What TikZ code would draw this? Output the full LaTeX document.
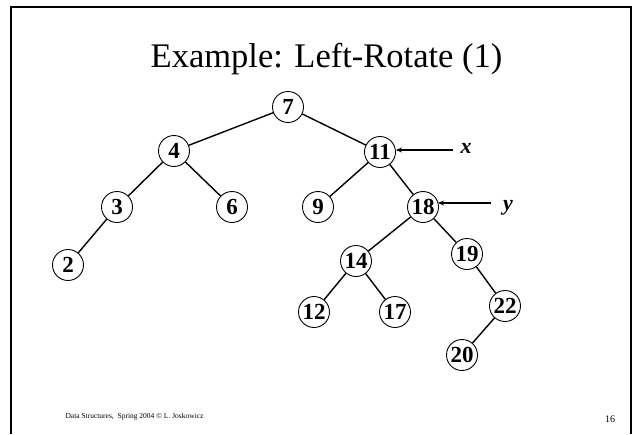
\documentclass[tikz,border=0pt]{standalone}
\usepackage{fontspec}
\setmainfont{Liberation Serif}
\usetikzlibrary{arrows.meta}
\begin{document}
\begin{tikzpicture}[x=1pt,y=1pt,
  key/.style={circle,draw,line width=0.9pt,minimum size=31pt,inner sep=0pt,
    font=\fontsize{23}{23}\selectfont\bfseries},
  edge/.style={line width=1.4pt},
  pointer/.style={line width=1.4pt,-{Stealth[length=6pt,width=5pt]}},
  tag/.style={font=\fontsize{22}{22}\selectfont\bfseries\itshape}]
\useasboundingbox (0,0) rectangle (637,-434);
% slide frame
\draw[line width=2.2pt] (11,-434) -- (11,-7) -- (631,-7) -- (631,-434);
% title
\node[anchor=base,font=\fontsize{34.5}{34.5}\selectfont] (title) at (326.5,-67) {Example: Left-Rotate (1)};
% tree nodes
\node[key] (n7)  at (288,-107) {7};
\node[key] (n4)  at (174,-151) {4};
\node[key] (n11) at (380,-152) {11};
\node[key] (n3)  at (117,-207) {3};
\node[key] (n6)  at (232,-207) {6};
\node[key] (n9)  at (318,-207) {9};
\node[key] (n18) at (423,-207) {18};
\node[key] (n2)  at (68,-265) {2};
\node[key] (n14) at (356,-261) {14};
\node[key] (n19) at (467,-254) {19};
\node[key] (n12) at (314,-312) {12};
\node[key] (n17) at (395,-312) {17};
\node[key] (n22) at (505,-306) {22};
\node[key] (n20) at (462,-355) {20};
% tree edges
\draw[edge] (n7) -- (n4);
\draw[edge] (n7) -- (n11);
\draw[edge] (n4) -- (n3);
\draw[edge] (n4) -- (n6);
\draw[edge] (n3) -- (n2);
\draw[edge] (n11) -- (n9);
\draw[edge] (n11) -- (n18);
\draw[edge] (n18) -- (n14);
\draw[edge] (n18) -- (n19);
\draw[edge] (n14) -- (n12);
\draw[edge] (n14) -- (n17);
\draw[edge] (n19) -- (n22);
\draw[edge] (n22) -- (n20);
% pointers x and y
\node[tag] (lx) at (466,-148) {x};
\node[tag] (ly) at (508,-208) {y};
\coordinate (xs) at (453,-150);
\coordinate (ys) at (491,-203);
\draw[pointer] (xs) -- (n11.east |- xs);
\draw[pointer] (ys) -- (438,-203) coordinate (ye);
% footer
\node[anchor=west,font=\fontsize{7.5}{8}\selectfont] (foot) at (62,-417) {Data Structures,\ \ Spring 2004 \textcopyright\ L. Joskowicz};
\node[font=\fontsize{10}{10}\selectfont] (page) at (610,-419) {16};
\end{tikzpicture}
\end{document}
